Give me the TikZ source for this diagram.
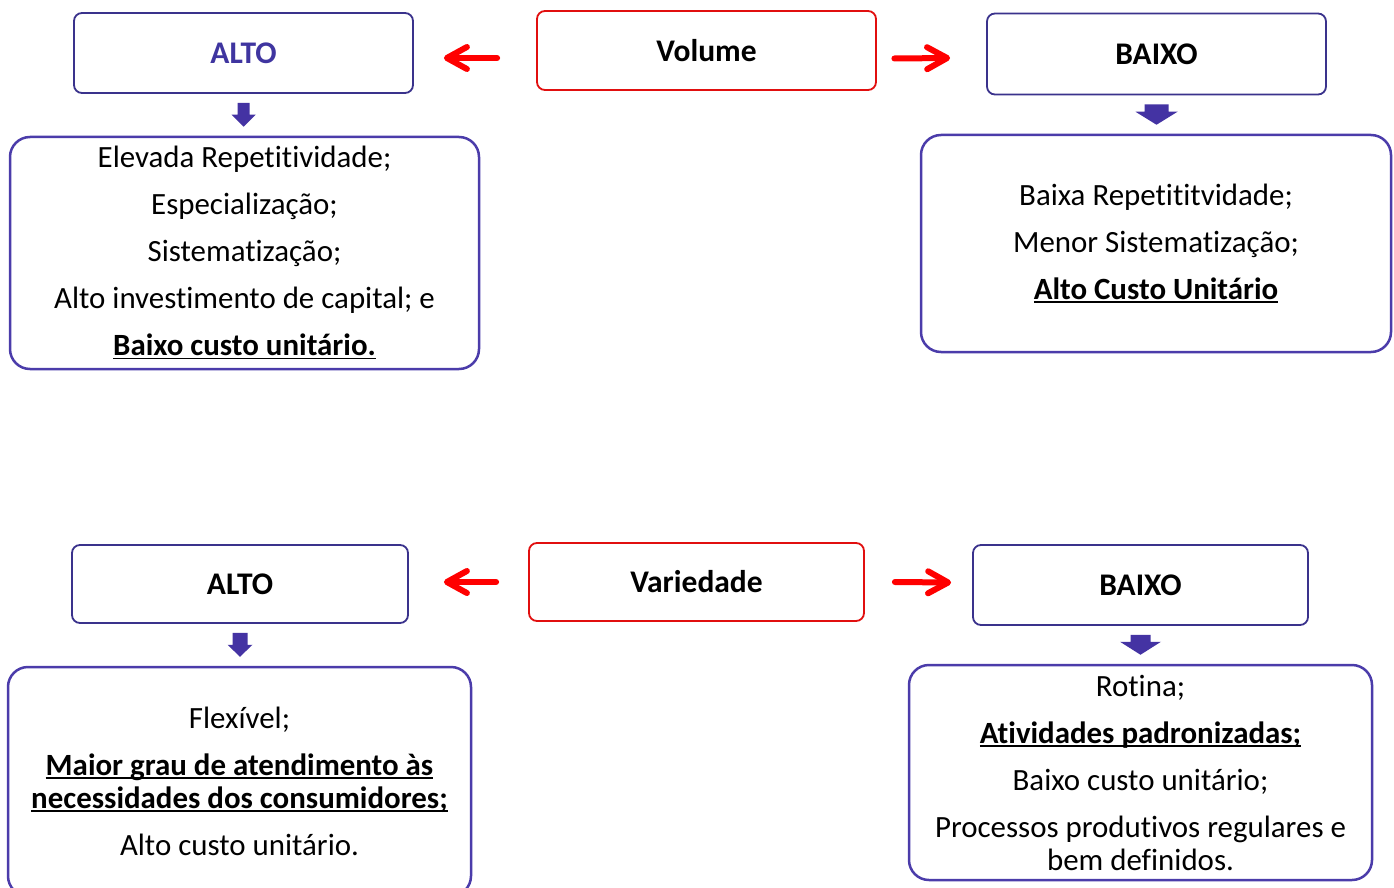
\documentclass[tikz,border=0pt]{standalone}
\usepackage{fontspec}
\setmainfont{Carlito}[Ligatures={NoCommon}]
\usetikzlibrary{calc,arrows.meta}
\definecolor{hdrc}{RGB}{58,50,140}
\definecolor{boxc}{RGB}{75,60,170}
\definecolor{blkc}{RGB}{68,51,163}
\definecolor{redc}{RGB}{225,15,15}
\definecolor{arrc}{RGB}{255,0,0}
\definecolor{altoc}{RGB}{63,53,160}
\newsavebox\myulbox
\newcommand\uln[1]{\sbox\myulbox{#1}\rlap{\rule[-3.5pt]{\wd\myulbox}{1.8pt}}\usebox\myulbox}
% from, to, stem half width, head half width, head length
\newcommand\blkarrow[5]{%
  \path (#1.south |- #2.north) coordinate (tmpb);
  \fill[blkc] ($(#1.south)+(-#3,9)$) -- ($(#1.south)+(#3,9)$)
    -- ($(tmpb)+(#3,-9-#5)$) -- ($(tmpb)+(#4,-9-#5)$) -- ($(tmpb)+(0,-9)$)
    -- ($(tmpb)+(-#4,-9-#5)$) -- ($(tmpb)+(-#3,-9-#5)$) -- cycle;}
\begin{document}
\begin{tikzpicture}[x=1pt,y=-1pt,
  hdr/.style={draw=hdrc, line width=1.8pt, rounded corners=8pt, fill=white,
    font=\fontsize{31.5}{36}\selectfont\bfseries, inner sep=0pt},
  hdrred/.style={hdr, draw=redc},
  detail/.style={draw=boxc, line width=2.5pt, rounded corners=20pt, align=center,
    font=\fontsize{30.9}{33}\selectfont, inner sep=0pt},
  redarr/.style={draw=arrc, line width=6pt, line cap=round,
    -{Straight Barb[length=20pt,width=22pt,line cap=round,line join=round]}}]
\useasboundingbox (0,0) rectangle (1394,888);
\fill[white] (0,0) rectangle (1394,888);
% Volume row
\node[hdr, minimum width=339pt, minimum height=80pt, text=altoc] (altoV) at (243.5,53) {ALTO};
\node[hdrred, minimum width=339pt, minimum height=79pt] (volume) at (706.5,50.5) {Volume};
\node[hdr, minimum width=339pt, minimum height=81pt] (baixoV) at (1156.5,54) {BAIXO};
\node[detail, minimum width=469pt, minimum height=232pt] (altoVd) at (244.5,253)
  {Elevada Repetitividade;\\[14pt] Especialização;\\[14pt] Sistematização;\\[14pt]
   Alto investimento de capital; e\\[14pt] \textbf{\uln{Baixo custo unitário.}}};
\node[detail, minimum width=470pt, minimum height=217pt] (baixoVd) at (1156,243.5)
  {Baixa Repetititvidade;\\[14pt] Menor Sistematização;\\[14pt] \textbf{\uln{Alto Custo Unitário}}};
% Variedade row
\node[hdr, minimum width=336pt, minimum height=78pt] (altoVar) at (240,584) {ALTO};
\node[hdrred, minimum width=335pt, minimum height=78pt] (variedade) at (696.5,582) {Variedade};
\node[hdr, minimum width=335pt, minimum height=80pt] (baixoVar) at (1140.5,585) {BAIXO};
\node[detail, minimum width=463pt, minimum height=229pt] (altoVard) at (239.5,781.5)
  {Flexível;\\[14pt] \textbf{\uln{Maior grau de atendimento às}}\\
   \textbf{\uln{necessidades dos consumidores;}}\\[14pt] Alto custo unitário.};
\node[detail, minimum width=463pt, minimum height=215pt] (baixoVard) at (1140.5,772.5)
  {Rotina;\\[14pt] \textbf{\uln{Atividades padronizadas;}}\\[14pt] Baixo custo unitário;\\[14pt]
   Processos produtivos regulares e\\ bem definidos.};
% red arrows
\draw[redarr] ($(volume.west)+(-39,7.5)$) -- ($(altoV.east)+(30,5)$);
\draw[redarr] ($(volume.east)+(17.5,8)$) -- ($(baixoV.west)+(-36,4)$);
\draw[redarr] ($(variedade.west)+(-32,0)$) -- ($(altoVar.east)+(35,-2)$);
\draw[redarr] ($(variedade.east)+(30,0)$) -- ($(baixoVar.west)+(-21,-2.5)$);
% block arrows
\blkarrow{altoV}{altoVd}{6}{12}{12}
\blkarrow{baixoV}{baixoVd}{12}{21}{13}
\blkarrow{altoVar}{altoVard}{7.5}{12.5}{12}
\blkarrow{baixoVar}{baixoVard}{10}{20.5}{13}
\end{tikzpicture}
\end{document}
